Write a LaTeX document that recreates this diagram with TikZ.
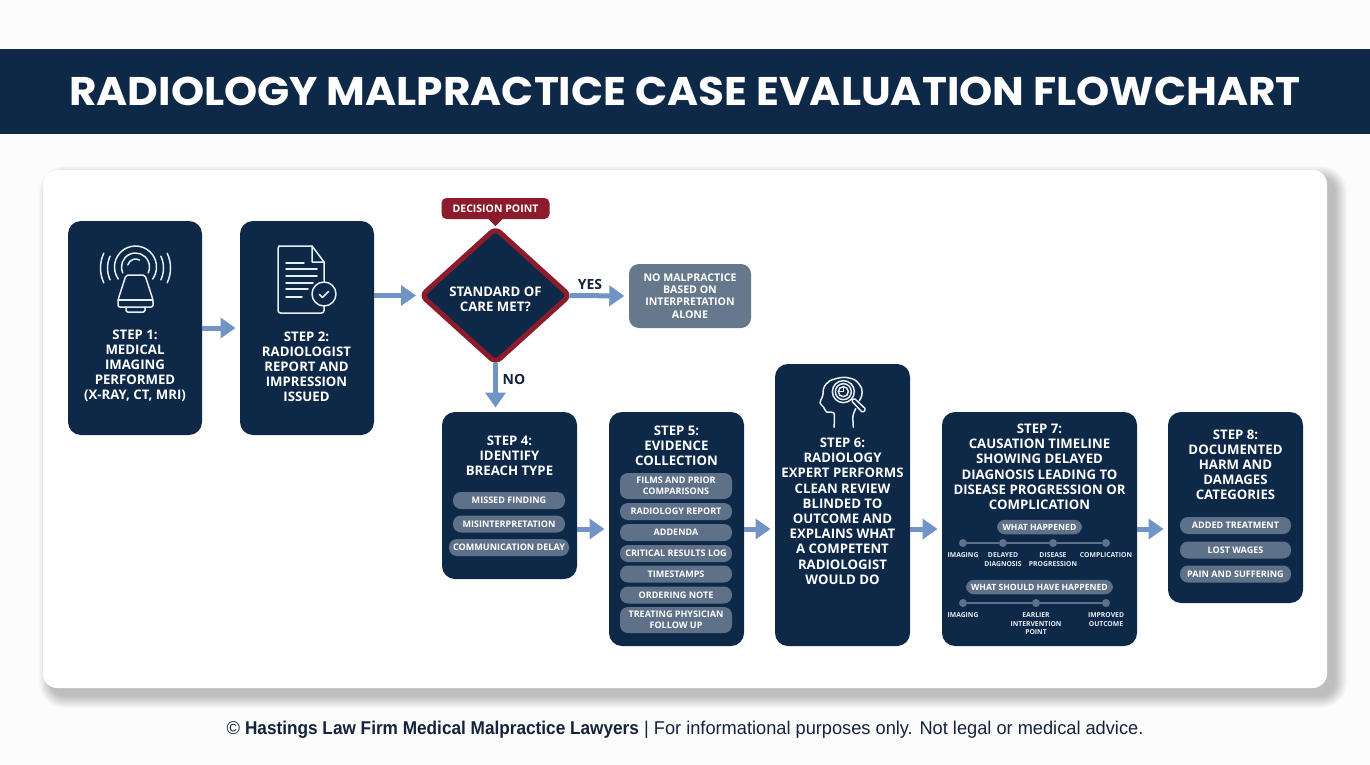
\documentclass[tikz,border=0pt]{standalone}
\usepackage{fontspec}
\usetikzlibrary{positioning,shapes.geometric,arrows.meta}
\setmainfont{Open Sans}
\newfontfamily\titlefont[FakeStretch=1.055]{Poppins}
\newfontfamily\footfont[FakeStretch=0.985,BoldFeatures={FakeStretch=0.93}]{Liberation Sans}

\definecolor{navy}{HTML}{0E2848}
\definecolor{slatepill}{HTML}{5F7188}
\definecolor{slatebox}{HTML}{66788C}
\definecolor{crimson}{HTML}{8C1C2C}
\definecolor{flowblue}{HTML}{6F94C5}
\definecolor{inkdark}{HTML}{14233B}
\definecolor{iconline}{HTML}{E8EEF5}

\tikzset{
  stepbox/.style={fill=navy,rounded corners=13pt,inner sep=0pt,outer sep=0pt},
  steptext/.style={text=white,align=center,font=\fontsize{13.2}{15.2}\selectfont\bfseries,inner sep=0pt},
  pill/.style={fill=slatepill,rounded corners=8pt,inner sep=0pt,outer sep=0pt,text=white,align=center,font=\fontsize{9.05}{10.6}\selectfont\bfseries},
  flowarrow/.style={draw=flowblue,line width=5pt,-{Triangle[length=15pt,width=20pt]},shorten >=4.5pt},
  answer/.style={text=inkdark,font=\fontsize{14}{16}\selectfont\bfseries,inner sep=0pt},
  dot/.style={circle,fill=slatepill,minimum size=8pt,inner sep=0pt,outer sep=0pt},
  dotline/.style={draw=slatepill,line width=1.5pt},
  tinytext/.style={text=iconline,align=center,font=\fontsize{6.8}{8.6}\selectfont\bfseries,inner sep=0pt},
  icon/.style={draw=iconline,line width=1.5pt,line cap=round,line join=round}
}

\begin{document}
\begin{tikzpicture}[x=1pt,y=-1pt]
 \useasboundingbox (0,0) rectangle (1370,765);
 \fill[white!99!black] (0,0) rectangle (1370,765);

 %Card
 \foreach \s in {12,11,...,0}
 \fill[black,opacity=0.02,rounded corners={14pt+\s pt}] ({51-\s},{178-\s}) rectangle ({1335+\s},{696+\s});
 \fill[white,rounded corners=14pt] (43,170) rectangle (1327,688);

 %Header
 \node[fill=navy,text=white,minimum width=1370pt,minimum height=85pt,inner sep=0pt,font=\titlefont\fontsize{40}{42}\selectfont\bfseries] (header) at (685,91.5) {RADIOLOGY MALPRACTICE CASE EVALUATION FLOWCHART};

 %Boxes
 \node[stepbox,minimum width=134pt,minimum height=214pt] (stepone) at (135,328) {};
 \node[stepbox,minimum width=134pt,minimum height=214pt,right=38pt of stepone] (steptwo) {};
 \node[diamond,aspect=1.1,fill=navy,draw=crimson,line width=5pt,rounded corners=6pt,minimum width=148pt,minimum height=134pt,inner sep=0pt,outer sep=0pt] (decision) at (495.5,295.5) {};
 \node[fill=crimson,rounded corners=5pt,minimum width=108pt,minimum height=21pt,inner sep=0pt,text=white,font=\fontsize{10.5}{13}\selectfont\bfseries] (dpoint) at (495.5,208.5) {DECISION POINT};
 \node[fill=slatebox,rounded corners=10pt,minimum width=122pt,minimum height=64pt,inner sep=0pt,text=white,align=center,font=\fontsize{10.6}{12.4}\selectfont\bfseries] (nomal) at (690,296) {NO MALPRACTICE\\BASED ON\\INTERPRETATION\\ALONE};
 \node[stepbox,minimum width=135pt,minimum height=167pt] (stepfour) at (509.5,495.5) {};
 \node[stepbox,minimum width=135pt,minimum height=234pt,below right=0pt and 32pt of stepfour.north east] (stepfive) {};
 \node[stepbox,minimum width=135pt,minimum height=282pt,above right=0pt and 31pt of stepfive.south east] (stepsix) {};
 \node[stepbox,minimum width=195pt,minimum height=234pt,above right=0pt and 32pt of stepsix.south east] (stepseven) {};
 \node[stepbox,minimum width=135pt,minimum height=191pt,below right=0pt and 31pt of stepseven.north east] (stepeight) {};
 \fill[crimson] ([xshift=-7pt]dpoint.south) -- ([xshift=7pt]dpoint.south) -- ([yshift=-7pt]dpoint.south) -- cycle;

 %Box titles
 \node[steptext] (textone) at (135,365.7) {STEP 1:\\MEDICAL\\IMAGING\\PERFORMED\\(X-RAY, CT, MRI)};
 \node[steptext] (texttwo) at (306.5,366.7) {STEP 2:\\RADIOLOGIST\\REPORT AND\\IMPRESSION\\ISSUED};
 \node[steptext] (textthree) at (495.5,299) {STANDARD OF\\CARE MET?};
 \node[steptext] (textfour) at (509.5,455.7) {STEP 4:\\IDENTIFY\\BREACH TYPE};
 \node[steptext] (textfive) at (676.5,445.7) {STEP 5:\\EVIDENCE\\COLLECTION};
 \node[steptext] (textsix) at (842.5,511.2) {STEP 6:\\RADIOLOGY\\EXPERT PERFORMS\\CLEAN REVIEW\\BLINDED TO\\OUTCOME AND\\EXPLAINS WHAT\\A COMPETENT\\RADIOLOGIST\\WOULD DO};
 \node[steptext] (textseven) at (1039.5,466.7) {STEP 7:\\CAUSATION TIMELINE\\SHOWING DELAYED\\DIAGNOSIS LEADING TO\\DISEASE PROGRESSION OR\\COMPLICATION};
 \node[steptext] (texteight) at (1235.5,464.7) {STEP 8:\\DOCUMENTED\\HARM AND\\DAMAGES\\CATEGORIES};

 %Pills
 \foreach \n/\x/\y/\w/\h/\t in {
   missed/509/500.5/112/17/MISSED FINDING,
   misint/509/524/112/17/MISINTERPRETATION,
   commdelay/509/547.5/120/17/COMMUNICATION DELAY,
   films/676/486/112/26/{FILMS AND PRIOR\\COMPARISONS},
   radrep/676/511.5/112/17/RADIOLOGY REPORT,
   addenda/676/532.5/112/17/ADDENDA,
   critical/676/553.5/112/17/CRITICAL RESULTS LOG,
   timestamps/676/574/112/17/TIMESTAMPS,
   ordering/676/595/112/17/ORDERING NOTE,
   treating/676/620/112/26/{TREATING PHYSICIAN\\FOLLOW UP},
   added/1235.5/525.5/111/17/ADDED TREATMENT,
   wages/1235.5/550/111/17/LOST WAGES,
   pain/1235.5/574/111/17/PAIN AND SUFFERING}
 \node[pill,minimum width=\w pt,minimum height=\h pt] (pill\n) at (\x,\y) {\t};
 \node[pill,minimum width=85pt,minimum height=14.5pt,font=\fontsize{8.6}{10}\selectfont\bfseries] (pillhappened) at (1039.5,527) {WHAT HAPPENED};
 \node[pill,minimum width=147pt,minimum height=14.5pt,font=\fontsize{8.6}{10}\selectfont\bfseries] (pillshould) at (1039.5,587) {WHAT SHOULD HAVE HAPPENED};

 %Timelines
 \foreach \n/\x/\t in {a/963/IMAGING,b/1003/{DELAYED\\DIAGNOSIS},c/1053/{DISEASE\\PROGRESSION},d/1106/COMPLICATION}{
 \node[dot] (now\n) at (\x,543) {};
 \node[tinytext,below=5.5pt of now\n] (nowtext\n) {\t};
 }
 \foreach \n/\x/\t in {a/963/IMAGING,b/1036/{EARLIER\\INTERVENTION\\POINT},c/1106/{IMPROVED\\OUTCOME}}{
 \node[dot] (ideal\n) at (\x,603) {};
 \node[tinytext,below=5.5pt of ideal\n] (idealtext\n) {\t};
 }
 \draw[dotline] (nowa) -- (nowb) -- (nowc) -- (nowd);
 \draw[dotline] (ideala) -- (idealb) -- (idealc);

 %Arrows
 \draw[flowarrow] (stepone) -- (steptwo);
 \draw[flowarrow,shorten >=5.5pt] (steptwo.east |- decision.west) -- (decision.west);
 \draw[flowarrow] (decision.east) -- (nomal.west);
 \draw[flowarrow] (decision.south) -- (decision.south |- stepfour.north);
 \draw[flowarrow] (stepfour.east |- stepfive.west) -- (stepfive.west);
 \draw[flowarrow] (stepfive.east) -- (stepsix.west |- stepfive.east);
 \draw[flowarrow] (stepsix.east |- stepseven.west) -- (stepseven.west);
 \draw[flowarrow] (stepseven.east) -- (stepeight.west |- stepseven.east);
 \node[answer] (yeslabel) at (590,284) {YES};
 \node[answer] (nolabel) at (514,379) {NO};

 %Scanner icon
 \foreach \r/\a/\b in {21/215/-35,14/205/-25,8/165/60}
 \draw[icon] ([shift={(\a:\r pt)}]135.5,267) arc[start angle=\a,end angle=\b,radius=\r pt];
 \foreach \r in {28,35}{
 \draw[icon] ([shift={(155:\r pt)}]135.5,268) arc[start angle=155,end angle=205,radius=\r pt];
 \draw[icon] ([shift={(25:\r pt)}]135.5,268) arc[start angle=25,end angle=-25,radius=\r pt];
 }
 \draw[icon,fill=navy,rounded corners=2pt] (126,275) -- (145,275) -- (153,300) -- (153,307) -- (118,307) -- (118,300) -- cycle;
 \draw[icon] (118,300) -- (153,300);
 \draw[icon,rounded corners=1.5pt] (126,307) -- (126,312) -- (145,312) -- (145,307);

 %Report icon
 \draw[icon,rounded corners=2.5pt] (312,246) -- (281,246) -- (278,246) -- (278,313) -- (324,313) -- (324,262);
 \draw[icon] (312,246) -- (324,262) -- (312,262) -- cycle;
 \foreach \y/\e in {263/304,269/317,276/317,283/313,289/308,297/302}
 \draw[icon] (286,\y) -- (\e,\y);
 \draw[icon,fill=navy] (324,294) circle[radius=12pt];
 \draw[icon] (319.5,294.5) -- (322.5,297.5) -- (328.5,291.5);

 %Expert icon
 \begin{scope}[shift={(810,370)},x=0.3333pt,y=-0.3333pt]
 \draw[icon] plot[smooth] coordinates {(72,172) (72,130) (50,126) (41,112) (30,98) (38,78) (42,52) (60,32) (100,22) (135,30) (155,55) (155,78) (148,92)};
 \draw[icon] plot[smooth] coordinates {(130,172) (129,138) (137,116)};
 \draw[icon] (100,65) circle[radius=11pt];
 \draw[icon] (100,65) circle[radius=8pt];
 \draw[icon] (100,65) circle[radius=5pt];
 \draw[icon] (85,65) -- (100,65) -- (100,50);
 \draw[icon,rounded corners=1.5pt] (124,92) -- (132,84) -- (168,118) -- (158,128) -- cycle;
 \end{scope}

 %Footer
 \node[text=inkdark,inner sep=0pt,font=\footfont\fontsize{18.5}{22}\selectfont] (footer) at (685,730) {© \textbf{Hastings Law Firm Medical Malpractice Lawyers} | For informational purposes only. Not legal or medical advice.};
\end{tikzpicture}
\end{document}
